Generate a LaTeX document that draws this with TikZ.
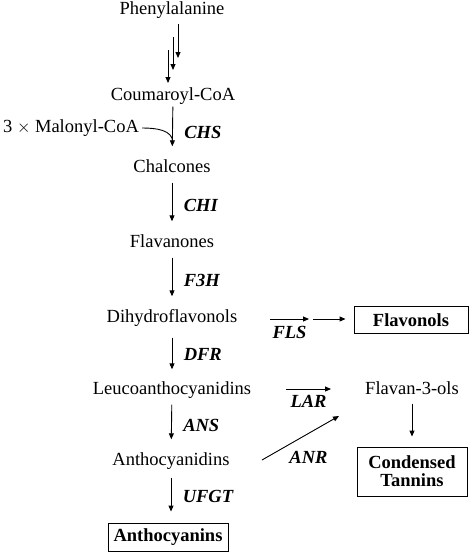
\documentclass[tikz,border=0pt]{standalone}
\usepackage{fontspec}
\setmainfont{Liberation Serif}
\usetikzlibrary{arrows.meta}

\begin{document}
\begin{tikzpicture}[x=1pt,y=-1pt,font=\fontsize{18.5}{21}\selectfont]

\tikzset{%
  flow/.style     = {-{Triangle[length=6pt,width=5pt]},line width=0.9pt},
  path/.style     = {flow,shorten <=6pt,shorten >=13pt},
  compound/.style = {inner sep=0pt,text height=13pt,text depth=4pt},
  enzyme/.style   = {font=\fontsize{18.5}{21}\selectfont\bfseries\itshape},
  product/.style  = {draw,line width=0.9pt,font=\fontsize{18.5}{21}\selectfont\bfseries,align=center},
}

\useasboundingbox (0,0) rectangle (472,552);

% Main pathway
\node[compound] (phe)   at (172,10)  {Phenylalanine};
\node[compound] (coum)  at (173,96)  {Coumaroyl-CoA};
\node[compound] (mal)   at (71,128)  {3 $\times$ Malonyl-CoA};
\node[compound] (chal)  at (172,168) {Chalcones};
\node[compound] (flav)  at (172,243) {Flavanones};
\node[compound] (dhf)   at (172,318) {Dihydroflavonols};
\node[compound] (leuco) at (172,390) {Leucoanthocyanidins};
\node[compound] (anth)  at (171,461) {Anthocyanidins};
\node[product,minimum width=120pt,minimum height=28pt] (acy) at (168,537) {Anthocyanins};

% Side branches
\node[product,minimum width=114pt,minimum height=27pt] (flo) at (411,320) {Flavonols};
\node[compound] (f3ol)  at (412,390) {Flavan-3-ols};
\node[product,minimum width=110pt,minimum height=49pt] (tan) at (412,471.5) {Condensed\\[-3pt]Tannins};

% Phenylalanine to Coumaroyl-CoA
\draw[flow] (phe) ++ (6,14)  to ++ (0,34);
\draw[flow] (phe) ++ (1,27)  to ++ (0,33);
\draw[flow] (phe) ++ (-4,40) to ++ (0,33);

% CHS
\coordinate (chsin) at (173,143);
\draw[flow,shorten <=2pt,shorten >=13pt] (coum) -- node[right=8pt,enzyme]{CHS} (chal);
\draw[line width=0.9pt] ([xshift=3pt]mal.east) to[out=0,in=90] (chsin);

% CHI, F3H, DFR, ANS, UFGT
\draw[path] (chal)  -- node[right=8pt,enzyme]{CHI}  (flav);
\draw[path] (flav)  -- node[right=8pt,enzyme]{F3H}  (dhf);
\draw[path,shorten <=11pt,shorten >=12pt] (dhf) -- node[right=8pt,enzyme]{DFR} (leuco);
\draw[path] (leuco) -- node[right=8pt,enzyme]{ANS}  (anth);
\draw[flow,shorten <=8pt,shorten >=11pt] (anth) -- node[right=8pt,enzyme]{UFGT} (acy.north -| anth);

% FLS
\coordinate (fls1) at (270,319);
\coordinate (fls2) at (309,319);
\coordinate (fls3) at (313,319);
\draw[flow] (fls1) -- node[below=3pt,enzyme]{FLS} (fls2);
\draw[flow,shorten >=8pt] (fls3) -- (flo.west |- fls3);

% LAR and ANR
\coordinate (lar1) at (286,389);
\coordinate (lar2) at (331,389);
\coordinate (anr1) at (262,460);
\coordinate (anr2) at (339,416);
\draw[flow] (lar1) -- node[below=2pt,enzyme]{LAR} (lar2);
\draw[flow] (anr1) -- node[midway,xshift=8pt,yshift=-19pt,enzyme]{ANR} (anr2);
\draw[flow,shorten <=5pt,shorten >=10pt] (f3ol) -- (tan.north);

\end{tikzpicture}
\end{document}
